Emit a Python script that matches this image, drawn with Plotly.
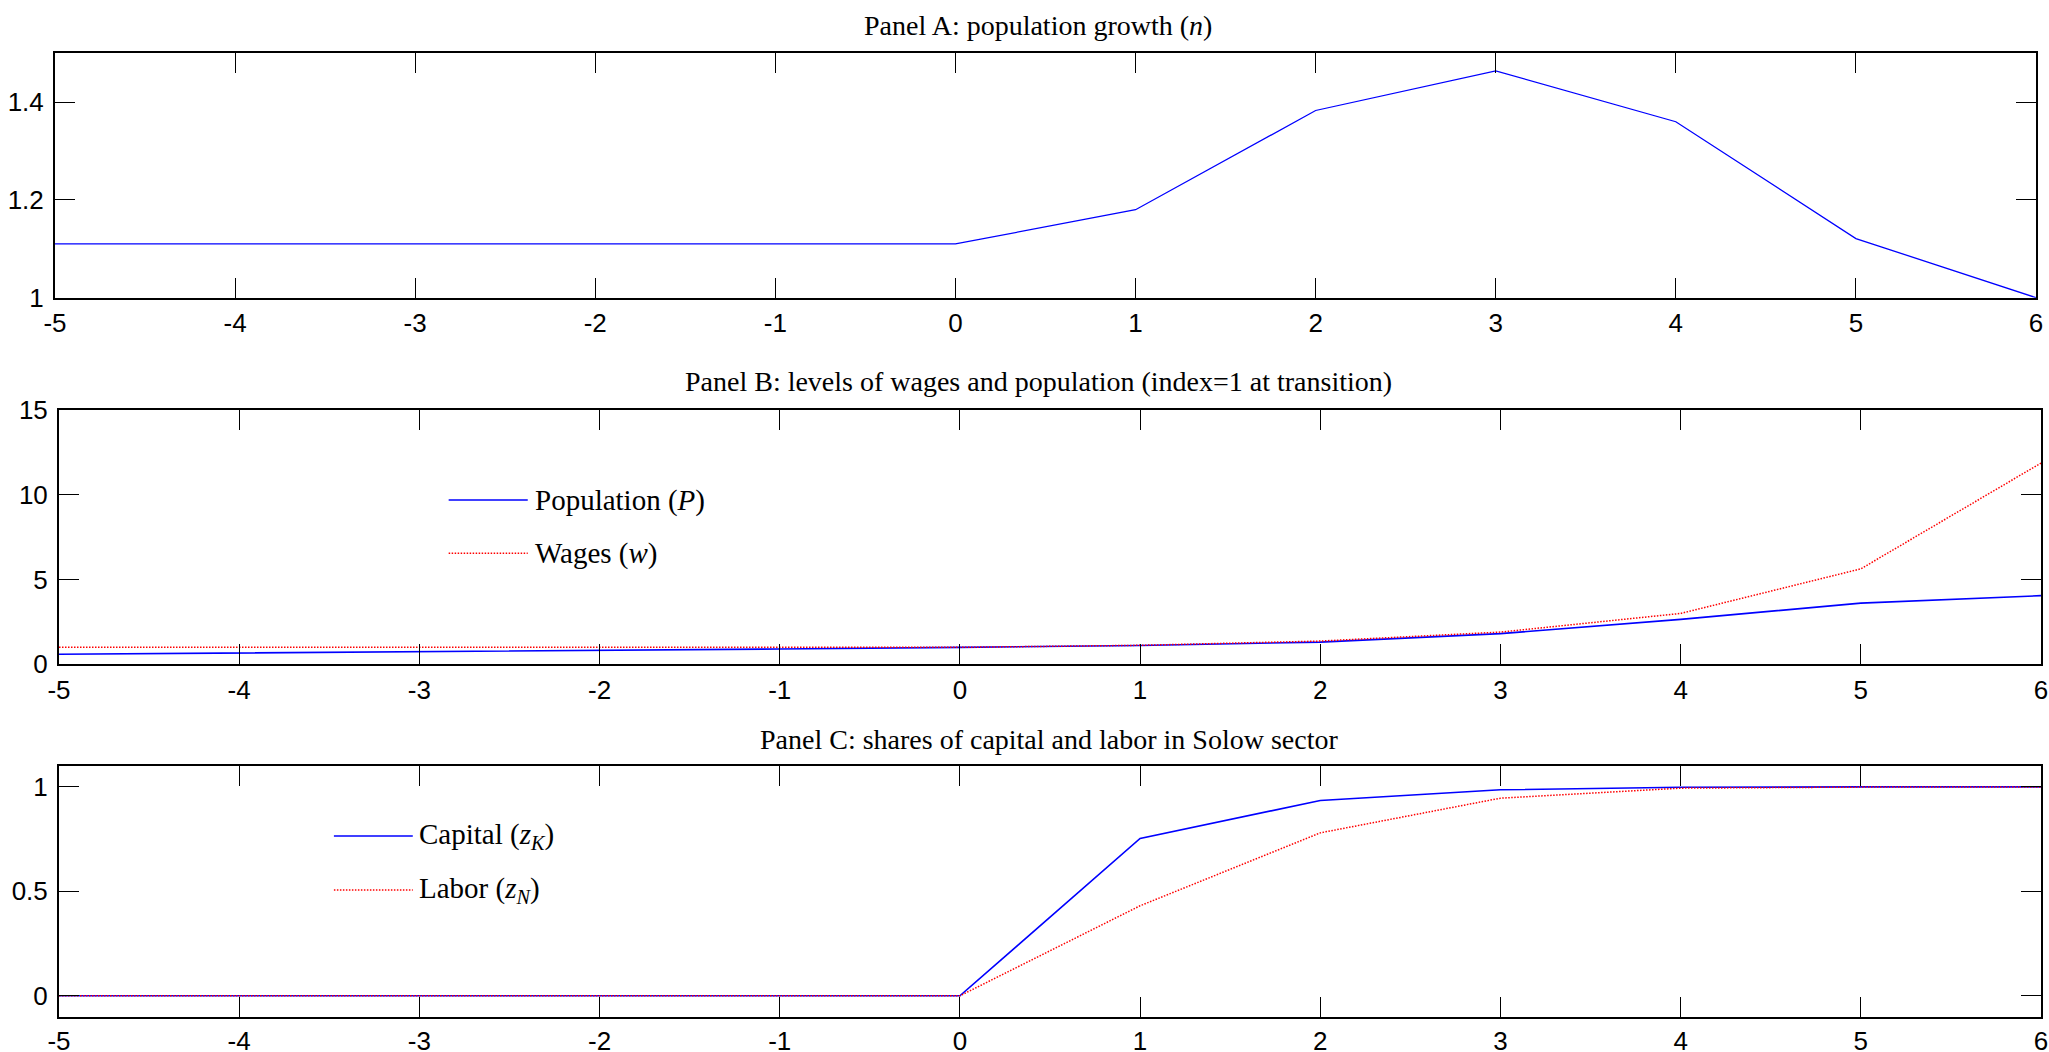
import plotly.graph_objects as go

# ---------------- data ----------------
t = [-5, -4, -3, -2, -1, 0, 1, 2, 3, 4, 5, 6]

pop_growth = [1.11, 1.11, 1.11, 1.11, 1.11, 1.11, 1.18, 1.383, 1.464, 1.36, 1.121, 1.0]

population = [0.59, 0.66, 0.73, 0.81, 0.90, 1.0, 1.11, 1.31, 1.81, 2.65, 3.61, 4.05]
wages = [1.0, 1.0, 1.0, 1.0, 1.0, 1.0, 1.12, 1.37, 1.90, 3.0, 5.63, 11.87]

capital_share = [0, 0, 0, 0, 0, 0, 0.753, 0.935, 0.986, 0.998, 1.0, 1.0]
labor_share = [0, 0, 0, 0, 0, 0, 0.431, 0.78, 0.946, 0.994, 0.999, 1.0]

x_tickvals = [-5, -4, -3, -2, -1, 0, 1, 2, 3, 4, 5, 6]
x_ticktext = ["-5", "-4", "-3", "-2", "-1", "0", "1", "2", "3", "4", "5", "6"]

ya_tickvals = [1, 1.2, 1.4]
ya_ticktext = ["1", "1.2", "1.4"]
yb_tickvals = [0, 5, 10, 15]
yb_ticktext = ["0", "5", "10", "15"]
yc_tickvals = [0, 0.5, 1]
yc_ticktext = ["0", "0.5", "1"]

titles = [
    "Panel A: population growth (<i>n</i>)",
    "Panel B: levels of wages and population (index=1 at transition)",
    "Panel C: shares of capital and labor in Solow sector",
]
names_b = ["Population (<i>P</i>)", "Wages (<i>w</i>)"]
names_c = ["Capital (<i>z</i><sub><i>K</i></sub>)", "Labor (<i>z</i><sub><i>N</i></sub>)"]

BLUE = "#0000FF"
RED = "#FF0000"
SERIF = "Liberation Serif"
SANS = "Liberation Sans"
DOTS = "1.5px,1.5px"

W, H = 2049, 1052


def py(px):
    return 1 - px / H


def pxx(px):
    return px / W


fig = go.Figure()

fig.add_trace(go.Scatter(x=t, y=pop_growth, mode="lines", line=dict(color=BLUE, width=1.3),
                         xaxis="x", yaxis="y", showlegend=False))
fig.add_trace(go.Scatter(x=t, y=population, mode="lines", line=dict(color=BLUE, width=1.6),
                         xaxis="x2", yaxis="y2", showlegend=False))
fig.add_trace(go.Scatter(x=t, y=wages, mode="lines", line=dict(color=RED, width=1.5, dash=DOTS),
                         xaxis="x2", yaxis="y2", showlegend=False))
fig.add_trace(go.Scatter(x=t, y=capital_share, mode="lines", line=dict(color=BLUE, width=1.6),
                         xaxis="x3", yaxis="y3", showlegend=False))
fig.add_trace(go.Scatter(x=t, y=labor_share, mode="lines", line=dict(color=RED, width=1.5, dash=DOTS),
                         xaxis="x3", yaxis="y3", showlegend=False))

common_axis = dict(
    showline=True, linecolor="black", linewidth=2, mirror="allticks",
    ticks="inside", ticklen=20, tickwidth=1, tickcolor="black",
    showgrid=False, zeroline=False, automargin=False,
    tickfont=dict(family=SANS, size=26, color="black"),
)

dom_a = [pxx(55), pxx(2036)]
dom_bc = [pxx(59), pxx(2041)]

layout = dict(
    template="none",
    width=W, height=H,
    margin=dict(l=0, r=0, t=0, b=0, pad=0, autoexpand=False),
    paper_bgcolor="white", plot_bgcolor="white",
    showlegend=False,
    xaxis=dict(domain=dom_a, range=[-5, 6], tickvals=x_tickvals, ticktext=x_ticktext, anchor="y",
               ticklabelstandoff=1, **common_axis),
    yaxis=dict(domain=[py(297.7), py(53.3)], range=[1, 1.5], tickvals=ya_tickvals, ticktext=ya_ticktext,
               anchor="x", ticklabelstandoff=4, **common_axis),
    xaxis2=dict(domain=dom_bc, range=[-5, 6], tickvals=x_tickvals, ticktext=x_ticktext, anchor="y2",
                ticklabelstandoff=1, **common_axis),
    yaxis2=dict(domain=[py(664.3), py(410)], range=[0, 15], tickvals=yb_tickvals, ticktext=yb_ticktext,
                anchor="x2", ticklabelstandoff=4, **common_axis),
    xaxis3=dict(domain=dom_bc, range=[-5, 6], tickvals=x_tickvals, ticktext=x_ticktext, anchor="y3",
                ticklabelstandoff=0, **common_axis),
    yaxis3=dict(domain=[py(1016.7), py(766)], range=[-0.1, 1.1], tickvals=yc_tickvals, ticktext=yc_ticktext,
                anchor="x3", ticklabelstandoff=4, **common_axis),
)
fig.update_layout(**layout)

# titles
title_y = [py(25), py(381.7), py(739)]
title_x = [0.4962, 0.494, 0.4995]
title_xref = ["x domain", "x2 domain", "x3 domain"]
for txt, xx, yy, xr in zip(titles, title_x, title_y, title_xref):
    fig.add_annotation(text=txt, x=xx, y=yy, xref=xr, yref="paper", showarrow=False,
                       xanchor="center", yanchor="middle",
                       font=dict(family=SERIF, size=28, color="black"))


def add_legend(names, colors, dashes, widths, xref, yref, x0, x1, xt, ys):
    for nm, c, d, w, yy in zip(names, colors, dashes, widths, ys):
        fig.add_shape(type="line", xref=xref, yref=yref, x0=x0, x1=x1, y0=yy, y1=yy,
                      line=dict(color=c, width=w, dash=d))
        fig.add_annotation(text=nm, x=xt, y=yy, xref=xref, yref=yref, showarrow=False,
                           xanchor="left", yanchor="middle",
                           font=dict(family=SERIF, size=29, color="black"))


add_legend(names_b, [BLUE, RED], ["solid", DOTS], [1.6, 1.5], "x2 domain", "y2 domain",
           0.1966, 0.2365, 0.2392, [0.646, 0.4365])
add_legend(names_c, [BLUE, RED], ["solid", DOTS], [1.6, 1.5], "x3 domain", "y3 domain",
           0.1387, 0.1785, 0.1806, [0.7208, 0.5054])

fig.write_html(
    "out.html",
    config={"displayModeBar": False},
    post_script="document.body.style.margin='0';document.body.style.padding='0';"
                "document.body.style.overflow='hidden';",
)
